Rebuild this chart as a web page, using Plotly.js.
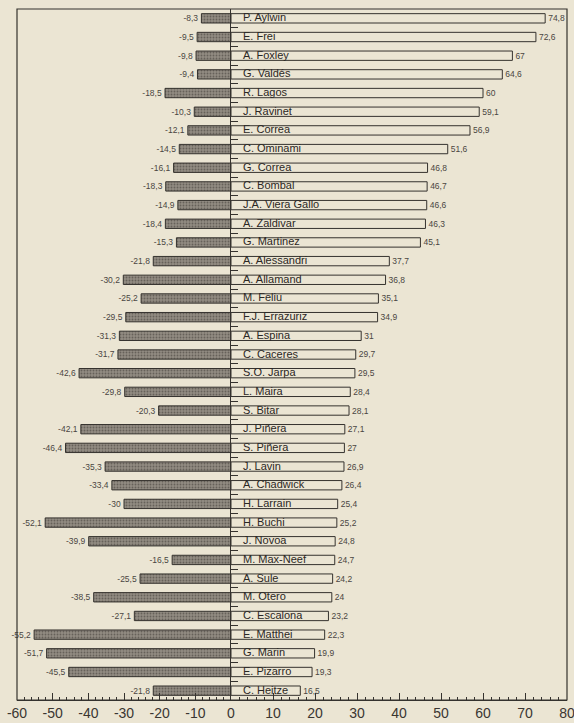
<!DOCTYPE html>
<html>
<head>
<meta charset="utf-8">
<script src="https://cdn.plot.ly/plotly-3.0.1.min.js"></script>
<style>
html,body{margin:0;padding:0;background:#ebe5d3;}
#chart{width:574px;height:723px;}
</style>
</head>
<body>
<div id="chart"></div>
<script>
var names = ["P. Aylwin","E. Frei","A. Foxley","G. Valdés","R. Lagos","J. Ravinet","E. Correa","C. Ominami","G. Correa","C. Bombal","J.A. Viera Gallo","A. Zaldivar","G. Martinez","A. Alessandri","A. Allamand","M. Feliu","F.J. Errazuriz","A. Espina","C. Caceres","S.O. Jarpa","L. Maira","S. Bitar","J. Piñera","S. Piñera","J. Lavin","A. Chadwick","H. Larrain","H. Buchi","J. Novoa","M. Max-Neef","A. Sule","M. Otero","C. Escalona","E. Matthei","G. Marin","E. Pizarro","C. Heitze"];
var negativeValues = [-8.3,-9.5,-9.8,-9.4,-18.5,-10.3,-12.1,-14.5,-16.1,-18.3,-14.9,-18.4,-15.3,-21.8,-30.2,-25.2,-29.5,-31.3,-31.7,-42.6,-29.8,-20.3,-42.1,-46.4,-35.3,-33.4,-30,-52.1,-39.9,-16.5,-25.5,-38.5,-27.1,-55.2,-51.7,-45.5,-21.8];
var positiveValues = [74.8,72.6,67,64.6,60,59.1,56.9,51.6,46.8,46.7,46.6,46.3,45.1,37.7,36.8,35.1,34.9,31,29.7,29.5,28.4,28.1,27.1,27,26.9,26.4,25.4,25.2,24.8,24.7,24.2,24,23.2,22.3,19.9,19.3,16.5];
var negTickVals = [-60,-50,-40,-30,-20,-10];
var negTickText = ["-60","-50","-40","-30","-20","-10"];
var posTickVals = [0,10,20,30,40,50,60,70,80];

function fmt(v){ return String(v).replace('.', ','); }

var ink = '#35322e';
var bg = '#ebe5d3';
var fontFam = 'Liberation Sans, Arial, sans-serif';

var negTrace = {
  type:'bar', orientation:'h', x:negativeValues, y:names, xaxis:'x', yaxis:'y',
  marker:{color:'#8a847b', line:{color:ink, width:1},
          pattern:{shape:'.', fgcolor:'#66615a', bgcolor:'#928c82', size:3, solidity:0.3}},
  text:negativeValues.map(fmt), textposition:'outside', cliponaxis:false,
  textfont:{family:fontFam, size:10, color:'#4a4642'},
  hoverinfo:'skip'
};
var posTrace = {
  type:'bar', orientation:'h', x:positiveValues, y:names, xaxis:'x2', yaxis:'y',
  marker:{color:bg, line:{color:ink, width:1}},
  text:positiveValues.map(fmt), textposition:'outside', cliponaxis:false,
  textfont:{family:fontFam, size:10, color:'#4a4642'},
  hoverinfo:'skip'
};

var annotations = names.map(function(n){
  return {x:0, y:n, xref:'x2', yref:'y', text:n, showarrow:false, xanchor:'left', xshift:10, yshift:1,
          font:{family:fontFam, size:11, color:'#2b2825'}};
});

var split = 214/550;
var tickFont = {family:fontFam, size:14, color:'#3a3632'};
var layout = {
  width:574, height:723,
  margin:{l:17, r:7, t:9, b:23},
  paper_bgcolor:bg, plot_bgcolor:bg,
  showlegend:false,
  bargap:0.5,
  xaxis:{domain:[0, split], range:[-60,0], tickmode:'array', tickvals:negTickVals, ticktext:negTickText,
         ticks:'inside', ticklen:7, tickcolor:ink, showgrid:false, zeroline:false, showline:true, linecolor:ink,
         minor:{tickmode:'linear', tick0:0, dtick:2, ticks:'inside', ticklen:3, tickcolor:ink},
         ticklabeloverflow:'allow', tickfont:tickFont, anchor:'y', fixedrange:true},
  xaxis2:{domain:[split, 1], range:[0,80], tickmode:'array', tickvals:posTickVals,
         ticks:'inside', ticklen:7, tickcolor:ink, showgrid:false, zeroline:false, showline:true, linecolor:ink,
         minor:{tickmode:'linear', tick0:0, dtick:2, ticks:'inside', ticklen:3, tickcolor:ink},
         ticklabeloverflow:'allow', tickfont:tickFont, anchor:'y', fixedrange:true},
  yaxis:{type:'category', autorange:'reversed', anchor:'x2', side:'left', showline:true, linecolor:ink, linewidth:1,
         ticks:'inside', tickson:'boundaries', ticklen:7, tickcolor:ink, showticklabels:false, showgrid:false, fixedrange:true},
  annotations:annotations,
  shapes:[{type:'rect', xref:'paper', yref:'paper', x0:0, x1:1, y0:0, y1:1, line:{color:ink, width:1.2}, fillcolor:'rgba(0,0,0,0)', layer:'above'}]
};

Plotly.newPlot('chart', [negTrace, posTrace], layout, {displayModeBar:false, staticPlot:true});
</script>
</body>
</html>
